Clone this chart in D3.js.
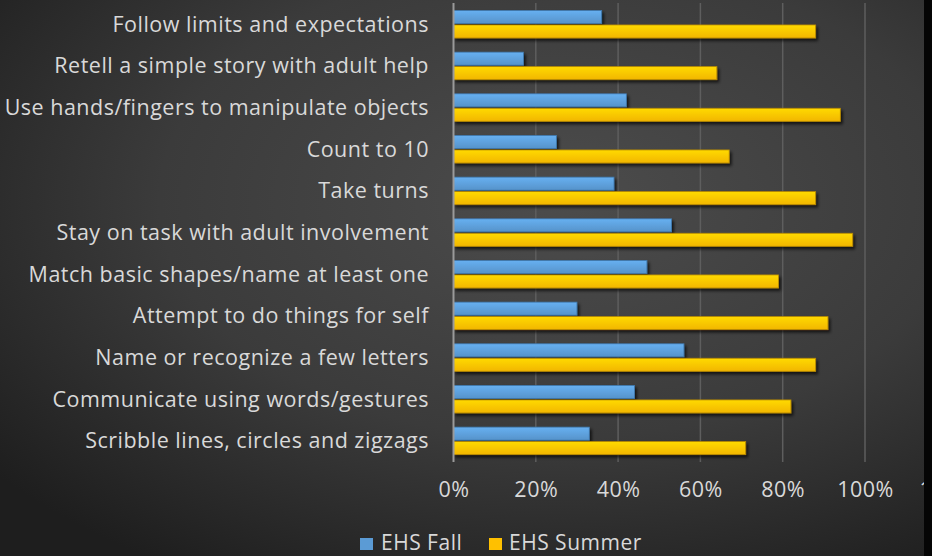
<!DOCTYPE html>
<html>
<head>
<meta charset="utf-8">
<script src="https://cdn.jsdelivr.net/npm/d3@7"></script>
<style>
  html, body { margin: 0; padding: 0; background: #1e1e1e; }
  svg { display: block; }
  text { font-family: "Open Sans", Lato, sans-serif; fill: #d9d9d9; letter-spacing: 0.5px; }
</style>
</head>
<body>
<div id="chart"></div>
<script>
var categories = [
  "Follow limits and expectations",
  "Retell a simple story with adult help",
  "Use hands/fingers to manipulate objects",
  "Count to 10",
  "Take turns",
  "Stay on task with adult involvement",
  "Match basic shapes/name at least one",
  "Attempt to do things for self",
  "Name or recognize a few letters",
  "Communicate using words/gestures",
  "Scribble lines, circles and zigzags"
];
var series = ["EHS Fall", "EHS Summer"];
var fall   = [36, 17, 42, 25, 39, 53, 47, 30, 56, 44, 33];
var summer = [88, 64, 94, 67, 88, 97, 79, 91, 88, 82, 71];
var ticks  = [0, 20, 40, 60, 80, 100, 120];

var width = 932;
var height = 556;
var colors = { "EHS Fall": "#5b9bd5", "EHS Summer": "#ffc000" };
var strokes = { "EHS Fall": "#3f78ad", "EHS Summer": "#b88a00" };

var svg = d3.select("#chart")
  .append("svg")
  .attr("width", width)
  .attr("height", height);

var defs = svg.append("defs");

var bg = defs.append("radialGradient")
  .attr("id", "bg")
  .attr("cx", "60%").attr("cy", "36%").attr("r", "78%");
bg.append("stop").attr("offset", "0%").attr("stop-color", "#4c4c4c");
bg.append("stop").attr("offset", "55%").attr("stop-color", "#3b3b3b");
bg.append("stop").attr("offset", "100%").attr("stop-color", "#1e1e1e");

var shadow = defs.append("filter")
  .attr("id", "shadow")
  .attr("x", "-5%").attr("y", "-40%").attr("width", "115%").attr("height", "200%");
shadow.append("feDropShadow")
  .attr("dx", 2).attr("dy", 2.5).attr("stdDeviation", 1.5)
  .attr("flood-color", "#000").attr("flood-opacity", 0.7);

series.forEach(function(s, i){
  var g = defs.append("linearGradient")
    .attr("id", "grad" + i)
    .attr("x1", 0).attr("y1", 0).attr("x2", 0).attr("y2", 1);
  g.append("stop").attr("offset", "0%").attr("stop-color", d3.color(colors[s]).brighter(0.35));
  g.append("stop").attr("offset", "100%").attr("stop-color", d3.color(colors[s]).darker(0.15));
});

svg.append("rect")
  .attr("width", width).attr("height", height)
  .attr("fill", "url(#bg)");

var x = d3.scaleLinear()
  .domain([0, 120])
  .range([453.5, 947.3]);

var y = d3.scaleBand()
  .domain(categories)
  .range([3.4, 461.7])
  .paddingInner(0.34)
  .paddingOuter(0.17);

var ySub = d3.scaleBand()
  .domain(series)
  .range([0, y.bandwidth()])
  .paddingInner(0.1);

// grid lines
svg.append("g")
  .attr("class", "grid")
  .selectAll("line")
  .data(ticks.slice(1))
  .enter()
  .append("line")
  .attr("x1", function(d){ return x(d); })
  .attr("x2", function(d){ return x(d); })
  .attr("y1", 3)
  .attr("y2", 462)
  .attr("stroke", "#5e5e5e")
  .attr("stroke-width", 1.5);

// bars
var rows = svg.append("g")
  .selectAll("g")
  .data(categories)
  .enter()
  .append("g")
  .attr("transform", function(d){ return "translate(0," + y(d) + ")"; });

rows.selectAll("rect")
  .data(function(d, i){
    return [
      { key: "EHS Fall", value: fall[i] },
      { key: "EHS Summer", value: summer[i] }
    ];
  })
  .enter()
  .append("rect")
  .attr("x", x(0))
  .attr("y", function(d){ return ySub(d.key); })
  .attr("width", function(d){ return x(d.value) - x(0); })
  .attr("height", ySub.bandwidth())
  .attr("fill", function(d, i){ return "url(#grad" + i + ")"; })
  .attr("stroke", function(d){ return strokes[d.key]; })
  .attr("stroke-width", 0.8)
  .attr("filter", "url(#shadow)");

// zero line
svg.append("line")
  .attr("x1", x(0)).attr("x2", x(0))
  .attr("y1", 3).attr("y2", 462)
  .attr("stroke", "#9a9a9a")
  .attr("stroke-width", 2);

// category labels
svg.append("g")
  .selectAll("text")
  .data(categories)
  .enter()
  .append("text")
  .attr("x", 429)
  .attr("y", function(d){ return y(d) + y.bandwidth() / 2; })
  .attr("dy", "0.35em")
  .attr("text-anchor", "end")
  .attr("font-size", 21.5)
  .text(function(d){ return d; });

// x axis
var xAxis = d3.axisBottom(x)
  .tickValues(ticks)
  .tickSize(0)
  .tickPadding(0)
  .tickFormat(function(d){ return d + "%"; });

var axisG = svg.append("g")
  .attr("transform", "translate(0,482)")
  .call(xAxis);
axisG.select(".domain").remove();
axisG.selectAll("text")
  .attr("font-size", 21.5)
  .attr("fill", "#d9d9d9")
  .style("font-family", "'Open Sans', Lato, sans-serif");

// legend
var legendItems = [
  { key: "EHS Fall", x: 360, tx: 381 },
  { key: "EHS Summer", x: 489, tx: 509 }
];
var legend = svg.append("g")
  .selectAll("g")
  .data(legendItems)
  .enter()
  .append("g");
legend.append("rect")
  .attr("x", function(d){ return d.x; })
  .attr("y", 538)
  .attr("width", 13)
  .attr("height", 12)
  .attr("fill", function(d){ return colors[d.key]; });
legend.append("text")
  .attr("x", function(d){ return d.tx; })
  .attr("y", 549.5)
  .attr("font-size", 21)
  .text(function(d){ return d.key; });

// dark strip at the right edge
svg.append("rect")
  .attr("x", 924).attr("y", 0)
  .attr("width", 8).attr("height", height)
  .attr("fill", "#050505");
</script>
</body>
</html>
